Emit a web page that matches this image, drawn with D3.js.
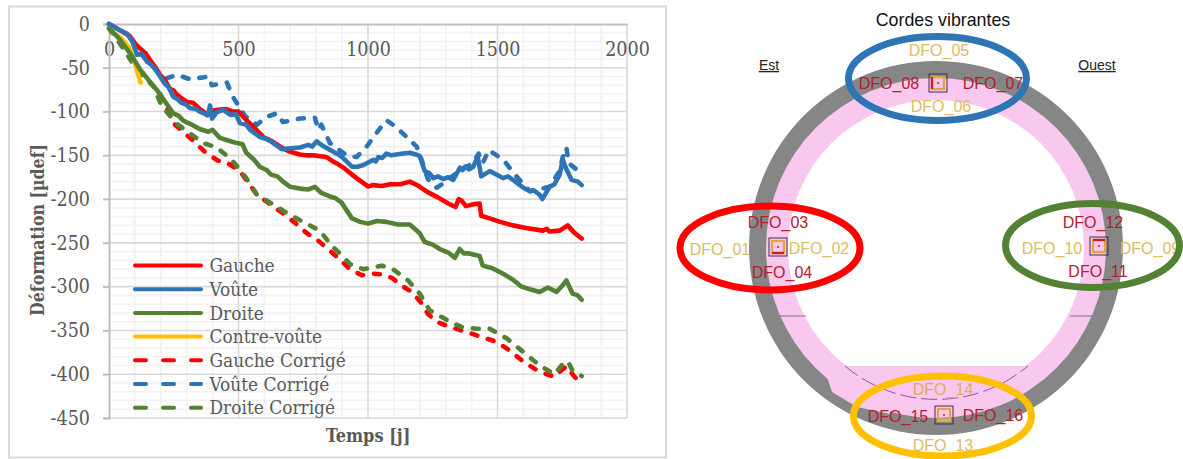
<!DOCTYPE html>
<html><head><meta charset="utf-8">
<script src="https://cdnjs.cloudflare.com/ajax/libs/d3/7.8.5/d3.min.js"></script>
<style>html,body{margin:0;padding:0;background:#fff;overflow:hidden}svg{display:block}.cam{font-family:"DejaVu Serif",serif;font-stretch:condensed}</style></head>
<body><svg id="c" width="1183" height="459"></svg>
<script>
const xTicks=[0,500,1000,1500,2000];
const yTicks=[0,-50,-100,-150,-200,-250,-300,-350,-400,-450];
const gaucheT=[0,30,81,100,120,140,158,178,197,215,235,250,260,281,300,325,350,365,378,395,420,450,479,500,518,560,595,630,672,700,737,760,790,815,840,865,884,905,938,965,1000,1020,1053,1085,1125,1161,1190,1230,1270,1310,1338,1350,1362,1378,1405,1431,1437,1470,1510,1560,1610,1675,1690,1700,1740,1771,1795,1825];
const gaucheV=[0,-5,-14,-22,-28,-33,-41,-49,-58,-64,-74,-76,-80,-85,-89,-90,-97,-100,-104,-99,-98,-97,-100,-100,-106,-118,-129,-134,-142,-146,-149,-150,-150,-151,-152,-157,-160,-164,-172,-178,-185.5,-184,-185,-183,-183,-180,-184,-192,-198,-205,-209,-200,-202,-208,-206,-205,-219,-222,-226,-230,-233,-236,-234,-237,-236,-230,-238,-245];
const gaucheCT=[197,255,320,370,420,459,505,540,571,633,680,718,764,806,845,884,930,976,1015,1053,1092,1131,1169,1207,1231,1265,1308,1361,1404,1443,1497,1547,1593,1655,1690,1720,1745,1766,1798,1825];
const gaucheCV=[-80,-115,-132,-146,-156,-159,-168,-182,-195,-208,-218,-227,-239,-247,-257,-267,-280,-287,-285,-286,-290,-299,-306,-319,-331,-340,-345,-350,-354,-358,-363,-373,-384,-396,-400,-403,-396,-391,-403,-411];
const vouteT=[0,35,69,90,108,125,147,165,184,215,230,248,265,280,298,312,335,350,382,390,398,415,441,470,490,505,530,545,582,605,625,667,700,737,770,785,802,815,830,866,885,900,938,960,982,1021,1030,1040,1055,1071,1090,1110,1135,1161,1185,1200,1210,1219,1235,1252,1270,1290,1310,1329,1355,1365,1375,1390,1406,1424,1437,1470,1490,1521,1540,1560,1600,1625,1640,1663,1673,1701,1720,1740,1752,1766,1786,1810,1825];
const vouteV=[0,-6,-11,-20,-35,-34,-43,-47,-54,-68,-72,-83,-86,-90,-92,-96,-97,-100,-104,-93,-108,-101,-98,-104,-103,-113,-115,-121,-129,-131,-134,-143,-142,-141,-138,-140,-134,-137,-140,-146,-149,-152,-163,-163,-161,-155,-157,-152,-153,-148,-150,-149,-148,-147,-149,-151,-160,-168,-170,-176,-174,-177,-175,-178,-164,-167,-163,-166,-163,-152,-174,-168,-171,-176,-174,-178,-187,-191,-190,-195,-200,-186,-183,-172,-155,-166,-178,-180,-184];
const vouteCT=[223,262,312,363,385,397,455,478,525,571,609,648,672,737,795,808,820,853,917,956,995,1039,1071,1096,1142,1188,1207,1231,1265,1296,1354,1405,1427,1443,1466,1497,1528,1567,1625,1700,1740,1751,1766,1775,1805,1825];
const vouteCV=[-62,-58,-63,-61,-60,-70,-67,-83,-105,-115,-106,-102,-112,-108,-107,-121,-115,-136,-150,-152,-140,-122,-110,-115,-127,-140,-155,-177,-187,-181,-167,-159,-148,-159,-144,-150,-157,-172,-191,-186,-168,-153,-141,-159,-166,-174];
const droiteT=[0,40,85,120,150,184,215,248,270,285,305,320,350,383,400,428,460,493,515,530,560,582,610,625,650,672,700,737,770,795,820,853,875,898,938,970,1000,1035,1071,1115,1161,1200,1219,1250,1277,1310,1335,1354,1370,1390,1431,1443,1480,1520,1560,1593,1625,1663,1694,1728,1750,1766,1790,1810,1825];
const droiteV=[-5,-17,-35,-52,-63,-75,-88,-102,-105,-110,-113,-115,-120,-123,-121,-130,-133,-136,-137,-147,-155,-163,-167,-172,-174,-180,-186,-188,-189,-186,-193,-197,-199,-204,-222,-226,-228,-225,-226,-229,-229,-239,-249,-252,-257,-261,-267,-257,-262,-262,-265,-276,-279,-285,-292,-300,-303,-306,-301,-306,-299,-293,-308,-310,-315];
const droiteCT=[0,55,107,171,204,262,312,364,416,474,525,571,633,687,749,814,859,891,930,981,1000,1053,1096,1155,1200,1238,1304,1361,1419,1470,1535,1597,1663,1720,1747,1771,1790,1825];
const droiteCV=[-5,-28,-52,-71,-94,-114,-125,-136,-141,-155,-174,-195,-206,-216,-226,-236,-253,-262,-274,-280,-279,-276,-280,-293,-308,-327,-338,-346,-348,-348,-359,-374,-390,-400,-390,-385,-396,-402];
const contreT=[10,15,42,75,95,107,122];
const contreV=[-5,-10,-15,-26,-39,-52,-67];
const legendNames=["Gauche","Voûte","Droite","Contre-voûte","Gauche Corrigé","Voûte Corrigé","Droite Corrigé"];
const legendColors=["#ff0000","#2e75b6","#548235","#ffc000","#ff0000","#2e75b6","#548235"];
const legendDashed=[false,false,false,false,true,true,true];
const redLabels=["DFO_08","DFO_07","DFO_03","DFO_04","DFO_12","DFO_11","DFO_15","DFO_16"];
const yellowLabels=["DFO_05","DFO_06","DFO_01","DFO_02","DFO_10","DFO_09","DFO_14","DFO_13"];

const svg=d3.select("#c");
const x=d3.scaleLinear().domain([0,2000]).range([109,627]);
const y=d3.scaleLinear().domain([0,-450]).range([24,418]);
const sans='"Liberation Sans",Arial,sans-serif';

svg.append("rect").attr("x",9).attr("y",6.5).attr("width",657).attr("height",451).attr("fill","#fff").attr("stroke","#d9d9d9").attr("stroke-width",2);

const g=svg.append("g");
d3.range(0,2001,100).filter(v=>v%500).forEach(v=>g.append("line").attr("x1",x(v)).attr("x2",x(v)).attr("y1",y(0)).attr("y2",y(-450)).attr("stroke","#f2f2f2").attr("stroke-width",1.6));
d3.range(0,-451,-10).filter(v=>v%50).forEach(v=>g.append("line").attr("x1",x(0)).attr("x2",x(2000)).attr("y1",y(v)).attr("y2",y(v)).attr("stroke","#f2f2f2").attr("stroke-width",1.6));
xTicks.slice(1).forEach(v=>g.append("line").attr("x1",x(v)).attr("x2",x(v)).attr("y1",y(0)).attr("y2",y(-450)).attr("stroke","#d9d9d9").attr("stroke-width",1.6));
yTicks.slice(1).forEach(v=>g.append("line").attr("x1",x(0)-6).attr("x2",x(2000)).attr("y1",y(v)).attr("y2",y(v)).attr("stroke","#d9d9d9").attr("stroke-width",1.6));

const xAxis=svg.append("g").attr("transform",`translate(0,${y(0)})`).call(d3.axisBottom(x).tickValues(xTicks).tickSize(0).tickPadding(18).tickFormat(d3.format("d")));
const yAxis=svg.append("g").attr("transform",`translate(${x(0)},0)`).call(d3.axisLeft(y).tickValues(yTicks).tickSize(6).tickPadding(13).tickFormat(d=>String(d)));
[xAxis,yAxis].forEach(a=>{a.selectAll("text").attr("class","cam").attr("font-family",null).attr("font-size",19.5).attr("fill","#595959");
 a.attr("font-family",null);
 a.selectAll(".domain").attr("stroke","#bfbfbf").attr("stroke-width",2);a.selectAll(".tick line").attr("stroke","#bfbfbf").attr("stroke-width",1.6);});

const line=d3.line().x(d=>x(d[0])).y(d=>y(d[1]));
const pair=(a,b)=>a.map((t,i)=>[t,b[i]]);
function draw(data,color,dashed){
 svg.append("path").attr("d",line(data)).attr("fill","none").attr("stroke",color).attr("stroke-width",4.6)
  .attr("stroke-linejoin","round").attr("stroke-linecap","round").attr("stroke-dasharray",dashed?"6 11":null);
}
draw(pair(gaucheCT,gaucheCV),legendColors[4],true);
draw(pair(vouteCT,vouteCV),legendColors[5],true);
draw(pair(droiteCT,droiteCV),legendColors[6],true);
draw(pair(gaucheT,gaucheV),legendColors[0],false);
draw(pair(contreT,contreV),legendColors[3],false);
draw(pair(droiteT,droiteV),legendColors[2],false);
draw(pair(vouteT,vouteV),legendColors[1],false);

legendNames.forEach((n,i)=>{
 const ly=266+i*23.7;
 svg.append("line").attr("x1",135).attr("x2",201).attr("y1",ly-0.5).attr("y2",ly-0.5).attr("stroke",legendColors[i]).attr("stroke-width",4)
  .attr("stroke-linecap","round").attr("stroke-dasharray",legendDashed[i]?"11 17":null);
 svg.append("text").attr("class","cam").attr("x",209.5).attr("y",ly).attr("dy","0.33em").attr("font-size",18.9).attr("fill","#595959").text(n);
});
svg.append("text").attr("class","cam").attr("transform","translate(44,230) rotate(-90)").attr("text-anchor","middle").attr("font-weight","bold").attr("font-size",17.6).attr("fill","#595959").text("Déformation [µdef]");
svg.append("text").attr("class","cam").attr("x",368).attr("y",442).attr("text-anchor","middle").attr("font-weight","bold").attr("font-size",18).attr("fill","#595959").text("Temps [j]");

/* tunnel section */
const cx=936,cy=248;
const d=svg.append("g");
d.append("circle").attr("cx",cx).attr("cy",cy).attr("r",187).attr("fill","#868686");
d.append("circle").attr("cx",cx).attr("cy",cy).attr("r",170).attr("fill","#f8c8ee");
d.append("path").attr("d","M825,370L828,380L832,392L857,407L890,414L890,395L840,370Z").attr("fill","#f8c8ee");
const defs=svg.append("defs");
defs.append("clipPath").attr("id","up").append("rect").attr("x",700).attr("y",0).attr("width",483).attr("height",366);
d.append("circle").attr("cx",cx).attr("cy",cy).attr("r",148).attr("fill","#fff").attr("clip-path","url(#up)");
[[780,806],[1070,1092]].forEach(s=>d.append("line").attr("x1",s[0]).attr("x2",s[1]).attr("y1",316).attr("y2",316).attr("stroke","#6a5a7a").attr("stroke-width",0.8));
d.append("path").attr("d","M845,366A142,142 0 0 0 1028,366").attr("fill","none").attr("stroke","#6b3f8f").attr("stroke-width",0.8).attr("stroke-dasharray","16 5");

/* gauge boxes: side carrying the red bar */
[[929,74,"left"],[769,238,"bottom"],[1090,237,"top"],[935,406,"bottomY"]].forEach(b=>{
 const [bx,by,s]=b;
 d.append("rect").attr("x",bx+3).attr("y",by+3).attr("width",12).attr("height",12).attr("fill","none").attr("stroke","#e8a33a").attr("stroke-width",2.2);
 const red="#c8202a";
 if(s=="left")d.append("line").attr("x1",bx+3).attr("x2",bx+3).attr("y1",by+3).attr("y2",by+15).attr("stroke",red).attr("stroke-width",2.4);
 if(s=="bottom")d.append("line").attr("x1",bx+3).attr("x2",bx+15).attr("y1",by+15).attr("y2",by+15).attr("stroke",red).attr("stroke-width",2.4);
 if(s=="top")d.append("line").attr("x1",bx+3).attr("x2",bx+15).attr("y1",by+3).attr("y2",by+3).attr("stroke",red).attr("stroke-width",2.4);
 if(s=="bottomY")d.append("line").attr("x1",bx+3).attr("x2",bx+15).attr("y1",by+14).attr("y2",by+14).attr("stroke","#d9b34a").attr("stroke-width",3);
 d.append("circle").attr("cx",bx+9).attr("cy",by+9).attr("r",1).attr("fill",red);
 d.append("rect").attr("x",bx).attr("y",by).attr("width",18).attr("height",18).attr("fill","none").attr("stroke","#3a3050").attr("stroke-width",1);
});

const labelPos={DFO_05:[939,50],DFO_06:[941,106],DFO_08:[889,83],DFO_07:[993,83],DFO_03:[778,222],DFO_12:[1093,222],DFO_01:[720,249],DFO_02:[819,248],DFO_04:[782,272],DFO_10:[1052,248],DFO_09:[1150,248],DFO_11:[1098,271],DFO_14:[943,389],DFO_15:[898,416],DFO_16:[993,415],DFO_13:[943,445]};
function lab(n,c){svg.append("text").attr("x",labelPos[n][0]).attr("y",labelPos[n][1]).attr("dy","0.35em").attr("text-anchor","middle").attr("font-family",sans).attr("font-size",16).attr("fill",c).text(n);}
yellowLabels.forEach(n=>lab(n,n=="DFO_14"?"#e3aa63":"#dcbd62"));
redLabels.forEach(n=>lab(n,"#b3202f"));

[[937.5,78.5,89,42,"#2e75b6"],[770,248,90,42,"#ff0000"],[1092.5,245.5,87,42,"#548235"],[942.5,416,89,40,"#ffc000"]].forEach(e=>{
 svg.append("ellipse").attr("cx",e[0]).attr("cy",e[1]).attr("rx",e[2]).attr("ry",e[3]).attr("fill","none").attr("stroke",e[4]).attr("stroke-width",7);
});
svg.append("text").attr("x",943).attr("y",20).attr("dy","0.35em").attr("text-anchor","middle").attr("font-family",sans).attr("font-size",17.8).attr("fill","#111").text("Cordes vibrantes");
[["Est",769],["Ouest",1097]].forEach(t=>svg.append("text").attr("x",t[1]).attr("y",65).attr("dy","0.35em").attr("text-anchor","middle").attr("font-family",sans).attr("font-size",14).attr("text-decoration","underline").attr("fill","#222").text(t[0]));
</script></body></html>
